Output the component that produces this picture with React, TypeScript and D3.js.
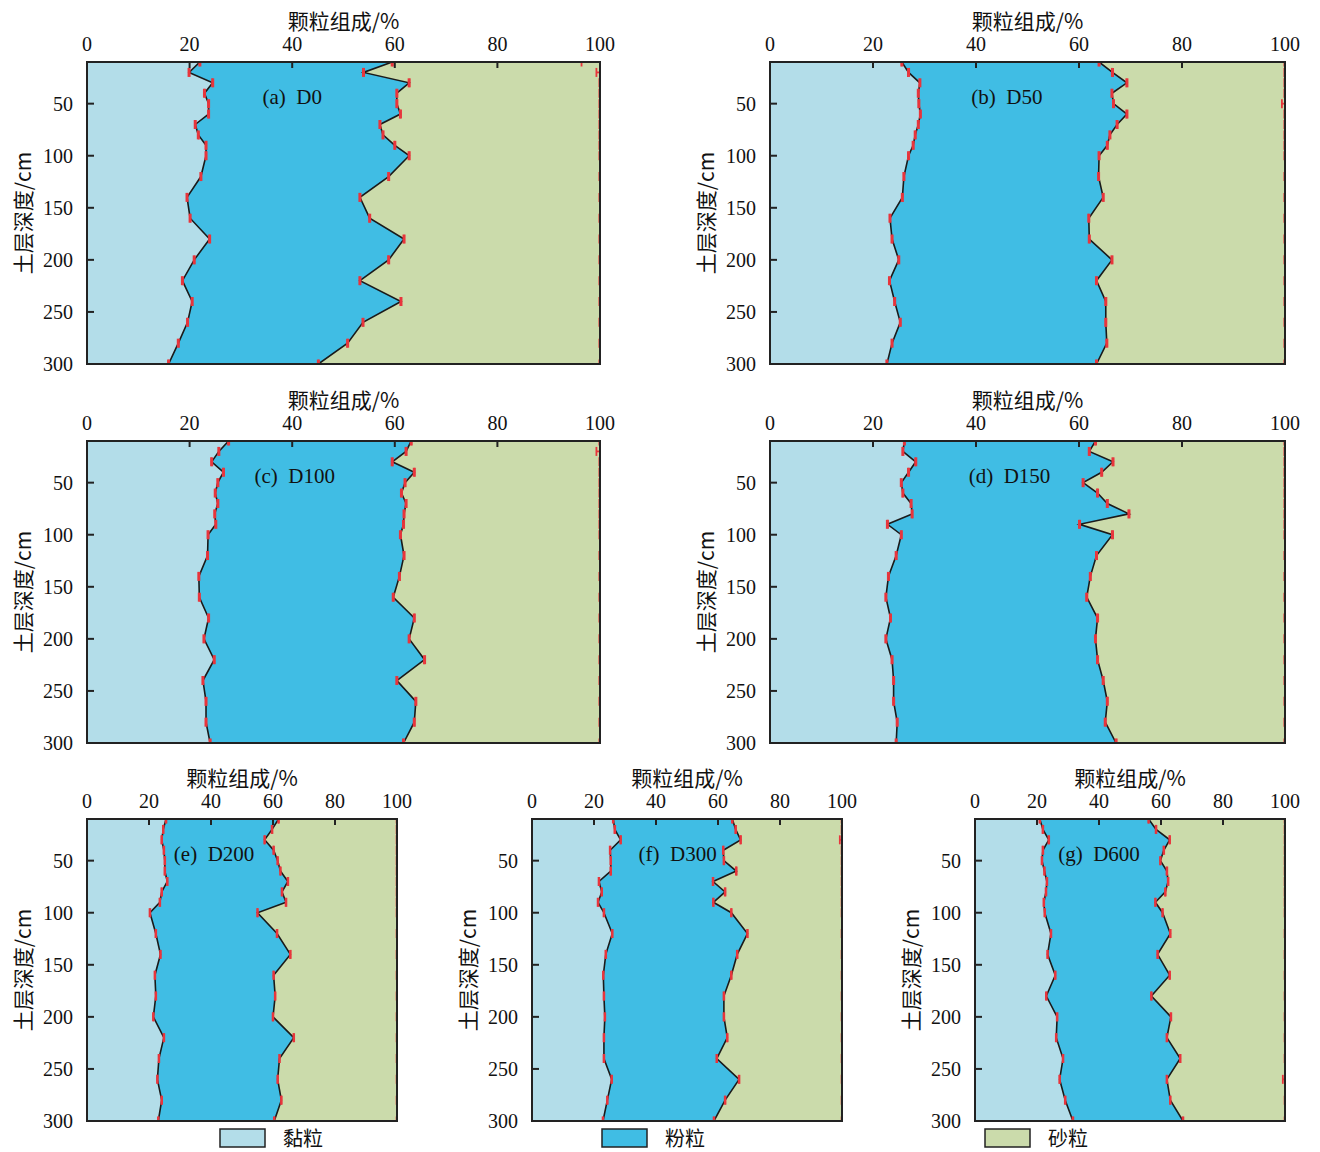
import React from 'react';
import * as d3 from 'd3';

// sampling depths (cm)
const depths = [10, 20, 30, 40, 50, 60, 70, 80, 90, 100, 120, 140, 160, 180, 200, 220, 240, 260, 280, 300];
const xTicks = [0, 20, 40, 60, 80, 100];
const yTicks = [50, 100, 150, 200, 250, 300];
const categories = ['黏粒', '粉粒', '砂粒'];
const colors = ['#b3dde9', '#40bde4', '#cbdbab'];

// clay % (cumulative), clay+silt % (cumulative) for each treatment
const clayD0 = [22.0, 19.9, 24.5, 22.9, 23.7, 23.7, 21.1, 21.7, 23.2, 23.2, 22.2, 19.5, 20.1, 23.9, 20.9, 18.6, 20.5, 19.6, 17.8, 15.9];
const cumD0 = [59.5, 53.9, 62.8, 60.4, 60.4, 61.1, 57.1, 57.7, 60.0, 62.8, 58.8, 53.2, 55.1, 61.8, 58.8, 53.2, 61.2, 53.8, 50.8, 45.1];
const clayD50 = [25.6, 26.9, 29.1, 28.8, 28.9, 29.2, 28.8, 28.2, 27.8, 26.9, 26.0, 25.7, 23.3, 23.7, 25.0, 23.2, 24.2, 25.3, 23.7, 22.7];
const cumD50 = [63.9, 66.5, 69.3, 66.4, 66.7, 69.3, 67.4, 66.0, 65.5, 63.9, 63.8, 64.7, 61.9, 62.0, 66.4, 63.4, 65.2, 65.2, 65.4, 63.4];
const clayD100 = [27.6, 25.7, 24.3, 26.6, 25.5, 25.0, 25.5, 24.9, 25.1, 23.6, 23.5, 21.8, 21.9, 23.7, 22.8, 24.8, 22.6, 23.2, 23.2, 24.0];
const cumD100 = [63.2, 62.2, 59.5, 63.8, 62.0, 61.3, 62.2, 61.8, 61.7, 61.1, 61.8, 60.9, 59.7, 63.8, 62.8, 65.8, 60.4, 64.1, 63.8, 61.7];
const clayD150 = [26.1, 25.8, 28.3, 26.9, 25.5, 25.8, 27.4, 27.6, 22.8, 25.5, 24.5, 23.0, 22.5, 23.4, 22.5, 23.7, 24.0, 24.0, 24.7, 24.5];
const cumD150 = [63.2, 62.0, 66.6, 64.4, 60.8, 63.6, 65.5, 69.7, 60.1, 66.5, 63.4, 62.2, 61.5, 63.6, 63.2, 63.6, 64.7, 65.5, 65.1, 67.2];
const clayD200 = [25.5, 24.6, 24.1, 24.8, 25.1, 25.1, 25.9, 24.1, 23.5, 20.3, 22.2, 23.7, 21.9, 22.2, 21.4, 24.8, 23.2, 22.7, 24.1, 23.0];
const cumD200 = [61.8, 59.7, 57.3, 60.2, 61.5, 62.4, 64.8, 62.9, 64.2, 55.0, 61.3, 65.6, 60.2, 60.7, 60.0, 66.7, 62.1, 61.5, 62.7, 60.4];
const clayD300 = [26.2, 26.7, 28.6, 25.2, 25.4, 25.4, 21.6, 22.5, 21.3, 23.2, 25.9, 23.8, 23.0, 23.2, 23.5, 23.2, 23.2, 25.7, 24.3, 22.9];
const cumD300 = [64.6, 65.7, 67.3, 61.7, 61.9, 65.9, 58.4, 62.3, 58.5, 64.3, 69.5, 66.2, 64.3, 61.9, 61.9, 63.0, 59.6, 66.8, 62.3, 58.7];
const clayD600 = [20.9, 21.9, 23.8, 21.9, 21.6, 22.4, 23.2, 22.9, 22.2, 22.5, 24.5, 23.4, 25.9, 23.0, 26.5, 26.2, 28.4, 27.3, 29.1, 31.6];
const cumD600 = [56.0, 58.4, 62.8, 60.9, 59.8, 61.9, 62.3, 61.4, 58.2, 60.5, 63.0, 58.9, 62.8, 56.9, 63.2, 61.9, 66.2, 61.9, 63.0, 67.1];

// error of the 100 % (total) series where it is visibly wider, [depth, err]
const totalErrD0 = [[10, 3.6], [20, 0.7]];
const totalErrD50 = [[50, 0.6]];
const totalErrD100 = [[20, 0.7]];
const totalErrD150: number[][] = [];
const totalErrD200: number[][] = [];
const totalErrD300 = [[30, 0.7]];
const totalErrD600 = [[260, 0.7]];
const ERR = 0.12;

const panels = [
  { label: '(a)  D0', clay: clayD0, cum: cumD0, tErr: totalErrD0, left: 87, top: 62, w: 513, lx: 40 },
  { label: '(b)  D50', clay: clayD50, cum: cumD50, tErr: totalErrD50, left: 770, top: 62, w: 515, lx: 46 },
  { label: '(c)  D100', clay: clayD100, cum: cumD100, tErr: totalErrD100, left: 87, top: 441, w: 513, lx: 40.5 },
  { label: '(d)  D150', clay: clayD150, cum: cumD150, tErr: totalErrD150, left: 770, top: 441, w: 515, lx: 46.5 },
  { label: '(e)  D200', clay: clayD200, cum: cumD200, tErr: totalErrD200, left: 87, top: 819, w: 310, lx: 41 },
  { label: '(f)  D300', clay: clayD300, cum: cumD300, tErr: totalErrD300, left: 532, top: 819, w: 310, lx: 47 },
  { label: '(g)  D600', clay: clayD600, cum: cumD600, tErr: totalErrD600, left: 975, top: 819, w: 310, lx: 40 },
];

const H = 302;
const serif = '"Liberation Serif", "DejaVu Serif", serif';
const cjk = '"Noto Sans CJK SC", sans-serif';
const red = '#e8353c';

const Panel = ({ p, i }) => {
  const x = d3.scaleLinear().domain([0, 100]).range([0, p.w]);
  const y = d3.scaleLinear().domain([10, 300]).range([0, H]);
  const rows = depths.map((d, k) => ({ d, c: p.clay[k], s: p.cum[k] }));

  const areaClay = d3.area<any>().y((r) => y(r.d)).x0(x(0)).x1((r) => x(r.c));
  const areaSilt = d3.area<any>().y((r) => y(r.d)).x0((r) => x(r.c)).x1((r) => x(r.s));
  const areaSand = d3.area<any>().y((r) => y(r.d)).x0((r) => x(r.s)).x1(x(100));
  const lineClay = d3.line<any>().y((r) => y(r.d)).x((r) => x(r.c));
  const lineCum = d3.line<any>().y((r) => y(r.d)).x((r) => x(r.s));

  const errBar = (v, d, e, key) => (
    <g key={key} stroke={red} strokeWidth={1.8}>
      <line x1={x(v - e)} x2={x(v + e)} y1={y(d)} y2={y(d)} />
      <line x1={x(v - e)} x2={x(v - e)} y1={y(d) - 4.5} y2={y(d) + 4.5} />
      <line x1={x(v + e)} x2={x(v + e)} y1={y(d) - 4.5} y2={y(d) + 4.5} />
    </g>
  );
  const tErrMap = new Map(p.tErr.map((t) => [t[0], t[1]]));
  const clipId = `clip-${i}`;

  return (
    <g transform={`translate(${p.left},${p.top})`}>
      <defs>
        <clipPath id={clipId}>
          <rect x={0} y={0} width={p.w} height={H} />
        </clipPath>
      </defs>
      <g clipPath={`url(#${clipId})`}>
        <path d={areaClay(rows)} fill={colors[0]} />
        <path d={areaSilt(rows)} fill={colors[1]} />
        <path d={areaSand(rows)} fill={colors[2]} />
        <path d={lineClay(rows)} fill="none" stroke="#1a1a1a" strokeWidth={1.6} />
        <path d={lineCum(rows)} fill="none" stroke="#1a1a1a" strokeWidth={1.6} />
        {rows.map((r, k) => errBar(r.c, r.d, ERR, `c${k}`))}
        {rows.map((r, k) => errBar(r.s, r.d, ERR, `s${k}`))}
        {rows.map((r, k) => errBar(100, r.d, tErrMap.get(r.d) ?? ERR, `t${k}`))}
      </g>
      <rect x={0} y={0} width={p.w} height={H} fill="none" stroke="#222" strokeWidth={2} />
      {xTicks.map((t) => (
        <g key={`x${t}`}>
          <line x1={x(t)} x2={x(t)} y1={0} y2={6} stroke="#222" strokeWidth={2} />
          <text x={x(t)} y={-18} textAnchor="middle" dominantBaseline="central" fontFamily={serif} fontSize={20} fill="#111">
            {t}
          </text>
        </g>
      ))}
      {yTicks.map((t) => (
        <g key={`y${t}`}>
          <line x1={0} x2={7} y1={y(t)} y2={y(t)} stroke="#222" strokeWidth={2} />
          <text x={-14} y={y(t)} textAnchor="end" dominantBaseline="central" fontFamily={serif} fontSize={20} fill="#111">
            {t}
          </text>
        </g>
      ))}
      <text x={p.w / 2} y={-42} textAnchor="middle" dominantBaseline="central" fontFamily={cjk} fontSize={21} fill="#111">
        颗粒组成/%
      </text>
      <text
        transform={`translate(-65,${H / 2}) rotate(-90)`}
        textAnchor="middle"
        dominantBaseline="central"
        fontFamily={cjk}
        fontSize={21}
        fill="#111"
      >
        土层深度/cm
      </text>
      <text
        x={x(p.lx)}
        y={y(44)}
        textAnchor="middle"
        dominantBaseline="central"
        fontFamily={serif}
        fontSize={21}
        fill="#111"
        style={{ whiteSpace: 'pre' }}
      >
        {p.label}
      </text>
    </g>
  );
};

const legendX = [220, 602, 985];

export default function App() {
  return (
    <svg width={1320} height={1152} style={{ position: 'absolute', left: 0, top: 0, background: '#fff' }}>
      {panels.map((p, i) => (
        <Panel key={p.label} p={p} i={i} />
      ))}
      {categories.map((c, i) => (
        <g key={c} transform={`translate(${legendX[i]},1129)`}>
          <rect x={0} y={0} width={45} height={18} fill={colors[i]} stroke="#222" strokeWidth={1.5} />
          <text x={63} y={8} dominantBaseline="central" fontFamily={cjk} fontSize={20} fill="#111">
            {c}
          </text>
        </g>
      ))}
    </svg>
  );
}
